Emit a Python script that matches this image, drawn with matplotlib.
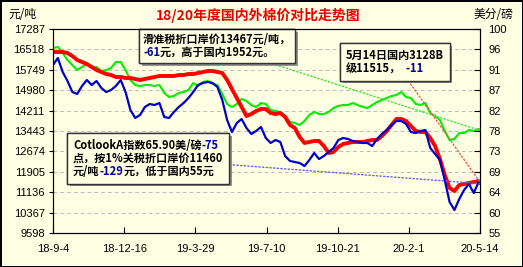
import matplotlib as mpl
mpl.use('Agg')

import pandas as pd
import numpy as np
import matplotlib.pyplot as plt
from matplotlib import patheffects
from matplotlib.offsetbox import TextArea, HPacker, VPacker, AnnotationBbox

CJK = ['Noto Sans CJK SC', 'DejaVu Sans']
plt.rcParams['font.family'] = CJK

# weekly samples, plus the last day 2020-05-14
dates = list(pd.date_range('2018-09-04', periods=89, freq='7D')) + [pd.Timestamp('2020-05-14')]

# domestic 3128B price (yuan/ton)
domestic = [16420, 16420, 16420, 16383, 16269, 16119, 16043, 15968, 15855, 15742,
            15666, 15591, 15553, 15478, 15478, 15440, 15440, 15403, 15365, 15403,
            15440, 15478, 15516, 15516, 15516, 15516, 15553, 15553, 15591, 15591,
            15629, 15666, 15704, 15704, 15666, 15629, 15365, 15026, 14686, 14347,
            14008, 14083, 14196, 14272, 14272, 14121, 14083, 14121, 13970, 13669,
            13556, 13217, 12991, 13028, 13066, 13066, 12877, 12613, 12651, 12840,
            12953, 12991, 13028, 13028, 13028, 13066, 13103, 13103, 13254, 13443,
            13669, 13895, 13895, 13820, 13631, 13443, 13405, 13405, 13179, 12877,
            12387, 11784, 11294, 11181, 11407, 11445, 11483, 11520, 11558, 11515]

# import price at 1% tariff (yuan/ton)
import_1pct = [15930, 16194, 15666, 15327, 14913, 14837, 15139, 15365, 15176, 15327,
               15063, 14913, 14988, 15139, 15365, 14913, 14234, 13933, 14046, 14347,
               14460, 14422, 14498, 13970, 13933, 14159, 14347, 14498, 14686, 14913,
               15176, 15252, 15290, 15252, 15101, 14611, 13857, 13405, 13744, 13895,
               13556, 13330, 13443, 13593, 13179, 12991, 13103, 13028, 12500, 12312,
               12274, 12237, 12123, 12349, 12613, 12387, 12500, 12651, 12802, 13103,
               13179, 13141, 13066, 13028, 12991, 12991, 12877, 13141, 13330, 13480,
               13669, 13820, 13820, 13707, 13405, 13367, 13443, 13480, 12802, 12576,
               12349, 11596, 10766, 10465, 10880, 11219, 11445, 11106, 11520, 11460]

# import price at sliding tariff (yuan/ton)
import_sliding = [16571, 16609, 16382, 16119, 15930, 15742, 15855, 15968, 15817, 15855,
                  15704, 15742, 15817, 16043, 16043, 15742, 15365, 15176, 15139, 15176,
                  15176, 15139, 15176, 14875, 14724, 14762, 14875, 14913, 14988, 15252,
                  15139, 15290, 15327, 15214, 15176, 14837, 14460, 14347, 14460, 14649,
                  14573, 14422, 14347, 14498, 14460, 14234, 14196, 14159, 14008, 13782,
                  13744, 13669, 13820, 14046, 14159, 14083, 14083, 14159, 14309, 14385,
                  14422, 14422, 14498, 14422, 14347, 14309, 14422, 14536, 14611, 14686,
                  14762, 14800, 14913, 14724, 14686, 14460, 14422, 14498, 14121, 14008,
                  13857, 13443, 13104, 13141, 13367, 13367, 13480, 13443, 13518, 13467]

left_ticks = [9598, 10367, 11136, 11905, 12674, 13443, 14211, 14980, 15749, 16518, 17287]
right_ticks = [55, 60, 64, 69, 73, 78, 82, 87, 91, 96, 100]
x_ticks = ['2018-09-04', '2018-12-16', '2019-03-29', '2019-07-10',
           '2019-10-21', '2020-02-01', '2020-05-14']
x_labels = ['18-9-4', '18-12-16', '19-3-29', '19-7-10', '19-10-21', '20-2-1', '20-5-14']

bg = '#FFFFE3'
fig = plt.figure(figsize=(5.23, 2.67), dpi=100)
fig.patch.set_facecolor(bg)
fig.patch.set_edgecolor('black')
fig.patch.set_linewidth(2)
ax = fig.add_axes([53 / 523, 34 / 267, 427 / 523, 204 / 267])
ax.set_facecolor(bg)

ax.plot(dates, import_sliding, color='#00EE00', lw=1.5, zorder=3)
ax.plot(dates, domestic, color='#FF0000', lw=2.8, zorder=4)
ax.plot(dates, import_1pct, color='#0000CC', lw=1.6, zorder=5)

ax.set_ylim(left_ticks[0], left_ticks[-1])
ax.set_yticks(left_ticks)
ax.set_yticklabels([str(t) for t in left_ticks])
ax.set_xlim(pd.Timestamp(x_ticks[0]), pd.Timestamp(x_ticks[-1]))
ax.set_xticks([pd.Timestamp(d) for d in x_ticks])
ax.set_xticklabels(x_labels)
ax.grid(axis='y', color='#BBBBBB', ls=(0, (4, 3)), lw=0.7)
ax.tick_params(axis='y', direction='out', length=3, labelsize=8, pad=3)
ax.tick_params(axis='x', direction='in', length=4, labelsize=8, pad=8)
for lab in ax.get_xticklabels() + ax.get_yticklabels():
    lab.set_family('Liberation Sans')

ax2 = ax.twinx()
ax2.set_ylim(right_ticks[0], right_ticks[-1])
ax2.set_yticks(np.linspace(55, 100, 11))
ax2.set_yticklabels([str(t) for t in right_ticks])
ax2.tick_params(axis='y', direction='in', length=4, labelsize=8, pad=6)
for lab in ax2.get_yticklabels():
    lab.set_family('Liberation Sans')

fig.text(0.494, 1 - 15 / 267, '18/20年度国内外棉价对比走势图', color='#EE0000',
         fontsize=10, fontweight='bold', ha='center', va='center')
fig.text(8 / 523, 1 - 15 / 267, '元/吨', fontsize=8.5, va='center', ha='left')
fig.text(513 / 523, 1 - 15 / 267, '美分/磅', fontsize=8.5, va='center', ha='right')

blue_txt = '#000099'


def note(lines, xy, top_left, line_color, pad=0.3):
    rows = []
    for parts in lines:
        areas = [TextArea(s, textprops=dict(color=c, fontsize=8, fontweight='bold',
                                            family=CJK)) for s, c in parts]
        rows.append(HPacker(children=areas, pad=0, sep=0, align='baseline'))
    box = VPacker(children=rows, pad=0, sep=0, align='left')
    ab = AnnotationBbox(box, xy, xycoords='data',
                        xybox=(top_left[0], 267 - top_left[1]), boxcoords='figure pixels',
                        box_alignment=(0, 1), pad=pad,
                        bboxprops=dict(facecolor=bg, edgecolor='#333333', lw=1),
                        arrowprops=dict(arrowstyle='-', ls=':', color=line_color, lw=1,
                                        shrinkA=0, shrinkB=0))
    ab.patch.set_path_effects([patheffects.withSimplePatchShadow(
        offset=(2, -2), shadow_rgbFace='#888888', alpha=0.9), patheffects.Normal()])
    ab.set_zorder(6)
    ax.add_artist(ab)


note([[('滑准税折口岸价13467元/吨，', 'black')],
      [('-61', blue_txt), ('元，高于国内1952元。', 'black')]],
     (dates[-1], import_sliding[-1]), (143, 33), '#44DD44')
note([[('5月14日国内3128B', 'black')],
      [('级11515，', 'black'), ('  -11', blue_txt)]],
     (dates[-1], domestic[-1]), (346, 49), '#EE5555', pad=0.4)
note([[('CotlookA指数65.90美/磅', 'black'), ('-75', blue_txt)],
      [('点，按1%关税折口岸价11460', 'black')],
      [('元/吨', 'black'), ('-129', blue_txt), ('元，低于国内55元', 'black')]],
     (dates[-1], import_1pct[-1]), (73, 139), '#6666CC', pad=0.4)

fig.savefig('out.png', dpi=100, facecolor=fig.get_facecolor(), edgecolor='black')
